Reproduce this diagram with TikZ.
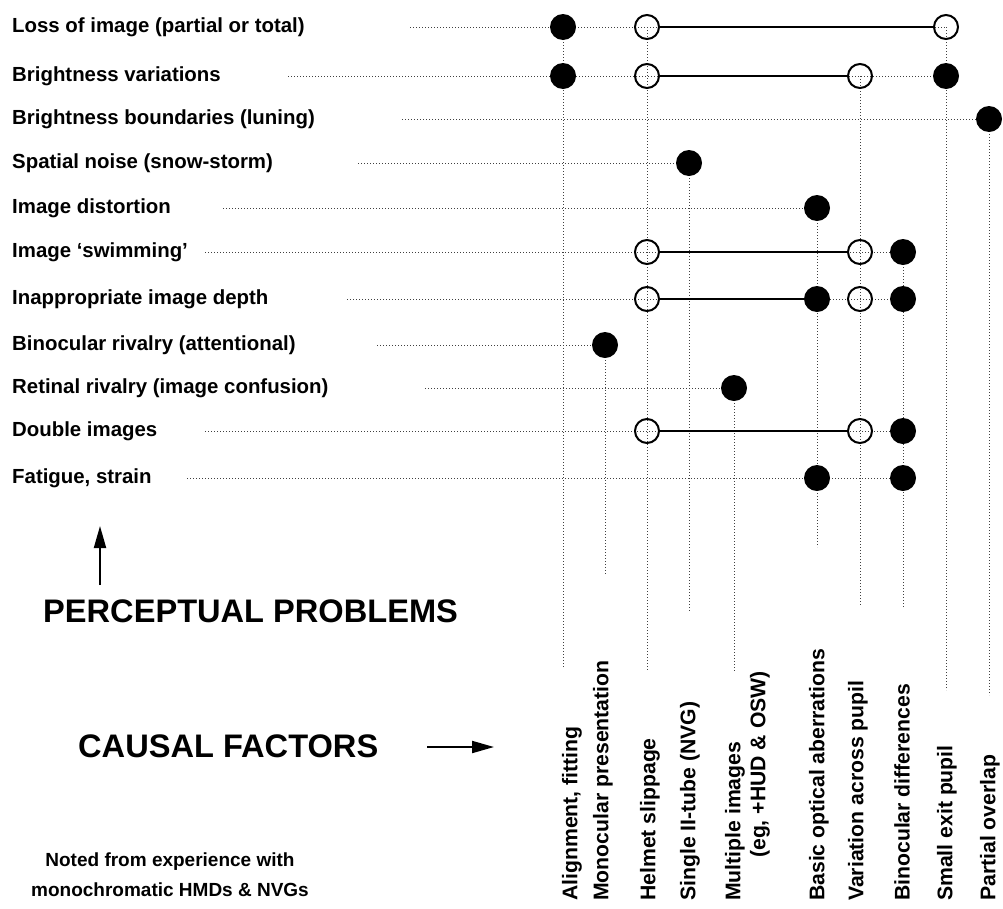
\documentclass[tikz,border=0pt]{standalone}
\usepackage{fontspec}
\setmainfont{Liberation Sans}
\usetikzlibrary{arrows.meta,backgrounds}
\begin{document}
\begin{tikzpicture}[x=1pt,y=-1pt,
  dotln/.style={line width=0.9pt, black!75, dash pattern=on 0.9pt off 2.1pt},
  solidln/.style={line width=2pt},
  fdot/.style={circle, fill=black, minimum size=26pt, inner sep=0pt},
  odot/.style={circle, draw=black, line width=2pt, minimum size=24pt, inner sep=0pt},
  rowlab/.style={anchor=base west, inner sep=0pt, font=\fontsize{20.4}{24}\selectfont\bfseries},
  collab/.style={rotate=90, anchor=west, inner sep=0pt, font=\fontsize{21.2}{25}\selectfont\bfseries},
  bigtext/.style={anchor=base west, inner sep=0pt, font=\fontsize{32.6}{38}\selectfont\bfseries},
  notetext/.style={align=center, inner sep=0pt, font=\fontsize{19}{30}\selectfont\bfseries},
  arr/.style={line width=2pt, -{Triangle[length=22pt,width=12pt]}}]
\useasboundingbox (0,0) rectangle (1003,908);

% row labels
\node[rowlab] (l1) at (12,32) {Loss of image (partial or total)};
\node[rowlab] (l2) at (12,81) {Brightness variations};
\node[rowlab] (l3) at (12,124) {Brightness boundaries (luning)};
\node[rowlab] (l4) at (12,168) {Spatial noise (snow-storm)};
\node[rowlab] (l5) at (12,213) {Image distortion};
\node[rowlab] (l6) at (12,257) {Image `swimming'};
\node[rowlab] (l7) at (12,304) {Inappropriate image depth};
\node[rowlab] (l8) at (12,350) {Binocular rivalry (attentional)};
\node[rowlab] (l9) at (12,393) {Retinal rivalry (image confusion)};
\node[rowlab] (l10) at (12,436) {Double images};
\node[rowlab] (l11) at (12,483) {Fatigue, strain};

% dots
\node[fdot] (n11) at (563,27) {};
\node[odot] (n13) at (647,27) {};
\node[odot] (n19) at (946,27) {};
\node[fdot] (n21) at (563,76) {};
\node[odot] (n23) at (647,76) {};
\node[odot] (n27) at (860,76) {};
\node[fdot] (n29) at (946,76) {};
\node[fdot] (n310) at (989,119) {};
\node[fdot] (n44) at (689,163) {};
\node[fdot] (n56) at (817,208) {};
\node[odot] (n63) at (647,252) {};
\node[odot] (n67) at (860,252) {};
\node[fdot] (n68) at (903,252) {};
\node[odot] (n73) at (647,299) {};
\node[fdot] (n76) at (817,299) {};
\node[odot] (n77) at (860,299) {};
\node[fdot] (n78) at (903,299) {};
\node[fdot] (n82) at (605,345) {};
\node[fdot] (n95) at (734,388) {};
\node[odot] (n103) at (647,431) {};
\node[odot] (n107) at (860,431) {};
\node[fdot] (n108) at (903,431) {};
\node[fdot] (n116) at (817,478) {};
\node[fdot] (n118) at (903,478) {};

% start / end coordinates of dotted guide lines
\coordinate (s1) at (410,27);
\coordinate (s2) at (288,76);
\coordinate (s3) at (402,119);
\coordinate (s4) at (358,163);
\coordinate (s5) at (223,208);
\coordinate (s6) at (205,252);
\coordinate (s7) at (347,299);
\coordinate (s8) at (377,345);
\coordinate (s9) at (425,388);
\coordinate (s10) at (205,431);
\coordinate (s11) at (187,478);
\coordinate (e1) at (563,668);
\coordinate (e2) at (605,575);
\coordinate (e3) at (647,670);
\coordinate (e4) at (689,612);
\coordinate (e5) at (734,672);
\coordinate (e6) at (817,547);
\coordinate (e7) at (860,605);
\coordinate (e8) at (903,608);
\coordinate (e9) at (946,690);
\coordinate (e10) at (989,695);

\begin{scope}[on background layer]
  \draw[dotln] (s1) -- (n19.center);
  \draw[dotln] (s2) -- (n29.center);
  \draw[dotln] (s3) -- (n310.center);
  \draw[dotln] (s4) -- (n44.center);
  \draw[dotln] (s5) -- (n56.center);
  \draw[dotln] (s6) -- (n68.center);
  \draw[dotln] (s7) -- (n78.center);
  \draw[dotln] (s8) -- (n82.center);
  \draw[dotln] (s9) -- (n95.center);
  \draw[dotln] (s10) -- (n108.center);
  \draw[dotln] (s11) -- (n118.center);
  \draw[dotln] (n11.center) -- (e1);
  \draw[dotln] (n82.center) -- (e2);
  \draw[dotln] (n13.center) -- (e3);
  \draw[dotln] (n44.center) -- (e4);
  \draw[dotln] (n95.center) -- (e5);
  \draw[dotln] (n56.center) -- (e6);
  \draw[dotln] (n27.center) -- (e7);
  \draw[dotln] (n68.center) -- (e8);
  \draw[dotln] (n19.center) -- (e9);
  \draw[dotln] (n310.center) -- (e10);
\end{scope}

% solid links
\draw[solidln] (n13) -- (n19);
\draw[solidln] (n23) -- (n27);
\draw[solidln] (n63) -- (n67);
\draw[solidln] (n73) -- (n76);
\draw[solidln] (n103) -- (n107);

% column labels
\node[collab] (f1) at (572,901) {Alignment, fitting};
\node[collab] (f2) at (603,901) {Monocular presentation};
\node[collab] (f3) at (650,901) {Helmet slippage};
\node[collab] (f4) at (690,901) {Single II-tube (NVG)};
\node[collab] (f5) at (735,901) {Multiple images};
\node[collab] (f5b) at (760,858) {(eg, +HUD \& OSW)};
\node[collab] (f6) at (819,901) {Basic optical aberrations};
\node[collab] (f7) at (858,901) {Variation across pupil};
\node[collab] (f8) at (902,901) {Binocular differences};
\node[collab] (f9) at (947,901) {Small exit pupil};
\node[collab] (f10) at (990,901) {Partial overlap};

% headings
\node[bigtext] (pp) at (43,622) {PERCEPTUAL PROBLEMS};
\node[bigtext] (cf) at (78,757) {CAUSAL FACTORS};
\coordinate (ua) at (100,585);
\coordinate (ub) at (100,526);
\draw[arr] (ua) -- (ub);
\coordinate (ra) at (427,747);
\coordinate (rb) at (494,747);
\draw[arr] (ra) -- (rb);

\node[notetext] (note) at (170,875) {Noted from experience with\\monochromatic HMDs \& NVGs};
\end{tikzpicture}
\end{document}
